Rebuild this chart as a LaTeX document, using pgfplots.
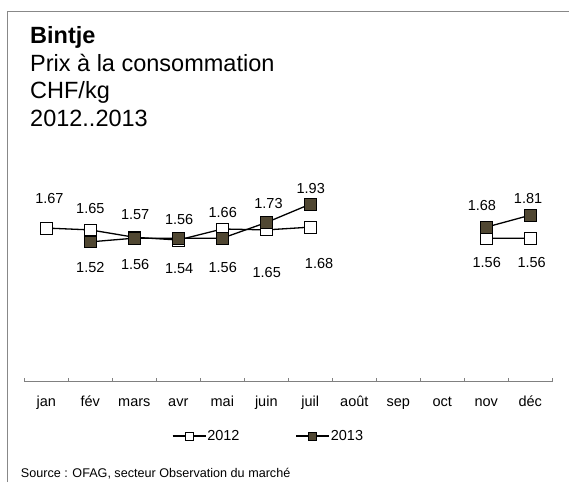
\documentclass[border=0pt]{standalone}
\usepackage{fontspec}
\setmainfont{Liberation Sans}
\usepackage{pgfplots}
\pgfplotsset{compat=1.18}
\usepackage{pgfplotstable}
\definecolor{dark}{RGB}{80,71,50}
\definecolor{framegray}{RGB}{136,136,136}
\definecolor{axisgray}{RGB}{128,128,128}

\pgfplotstableread{
x y
0 1.67
1 1.65
2 1.57
3 1.54
4 1.66
5 1.65
6 1.68
7 nan
8 nan
9 nan
10 1.56
11 1.56
}\dataA
\pgfplotstableread{
x y
0 nan
1 1.52
2 1.56
3 1.56
4 1.56
5 1.73
6 1.93
7 nan
8 nan
9 nan
10 1.68
11 1.81
}\dataB
\pgfplotstableread{
x y lab
0.07 1.993 1.67
1.00 1.885 1.65
2.02 1.812 1.57
3.02 1.765 1.56
4.01 1.837 1.66
5.05 1.939 1.73
6.01 2.102 1.93
9.90 1.913 1.68
10.95 1.993 1.81
1.00 1.243 1.52
2.02 1.279 1.56
3.02 1.225 1.54
4.01 1.243 1.56
5.01 1.185 1.65
6.20 1.287 1.68
10.01 1.298 1.56
11.03 1.298 1.56
}\labels

\begin{document}
\begin{tikzpicture}
\useasboundingbox (0pt,0pt) rectangle (569pt,482pt);
\draw[framegray, line width=1pt] (7.3pt,0pt) -- (7.3pt,470.3pt) -- (570pt,470.3pt);
\node[anchor=base west, inner sep=0pt, font=\fontsize{23.5}{28}\selectfont\bfseries] at (30pt,438.7pt) {Bintje};
\node[anchor=base west, inner sep=0pt, font=\fontsize{23.5}{28}\selectfont] at (30pt,410.3pt) {Prix à la consommation};
\node[anchor=base west, inner sep=0pt, font=\fontsize{23.5}{28}\selectfont] at (30pt,383pt) {CHF/kg};
\node[anchor=base west, inner sep=0pt, font=\fontsize{23.5}{28}\selectfont] at (30pt,355.3pt) {2012..2013};
\node[anchor=base west, inner sep=0pt, font=\fontsize{12.6}{15}\selectfont] at (20.7pt,5pt) {Source : OFAG, secteur Observation du marché};
\begin{axis}[
  at={(24.3pt,100.3pt)}, anchor=south west,
  scale only axis, width=528pt, height=230pt,
  xmin=-0.5, xmax=11.5, ymin=0, ymax=2.5,
  axis y line=none, axis x line*=bottom,
  x axis line style={draw=axisgray, line width=0.8pt, -},
  xtick={0,...,11},
  xticklabels={jan,fév,mars,avr,mai,juin,juil,août,sep,oct,nov,déc},
  major x tick style={draw=none},
  minor xtick={-0.5,0.5,...,11.5},
  minor x tick style={draw=axisgray, line width=0.8pt},
  minor tick length=4pt,
  tick align=inside,
  xticklabel style={anchor=base, yshift=-24.3pt, font=\fontsize{14.5}{17}\selectfont},
  clip=false,
  unbounded coords=jump,
  legend columns=2,
  legend style={draw=none, fill=none, inner sep=0pt, outer sep=0pt, at={(0.2797,-0.236)}, anchor=west,
    font=\fontsize{14.5}{17}\selectfont, nodes={inner sep=1pt},
    /tikz/every even column/.append style={column sep=55pt}},
  legend image code/.code={\draw[mark size=4pt, mark repeat=2, mark phase=2, line width=1.3pt] plot coordinates {(0pt,0pt) (16.5pt,0pt) (33pt,0pt)};},
]
\addplot[black, line width=1.3pt, mark=square*, mark size=5.9pt, mark options={fill=white, draw=black, line width=0.8pt, solid}] table[x=x,y=y] {\dataA};
\addlegendentry{2012}
\addplot[black, line width=1.3pt, mark=square*, mark size=5.9pt, mark options={fill=dark, draw=black, line width=0.8pt, solid}] table[x=x,y=y] {\dataB};
\addlegendentry{2013}
\addplot[draw=none, mark=none, forget plot, nodes near coords, point meta=explicit symbolic,
  nodes near coords style={anchor=center, inner sep=0pt, font=\fontsize{14.5}{17}\selectfont}] table[x=x,y=y,meta=lab] {\labels};
\end{axis}
\end{tikzpicture}
\end{document}
